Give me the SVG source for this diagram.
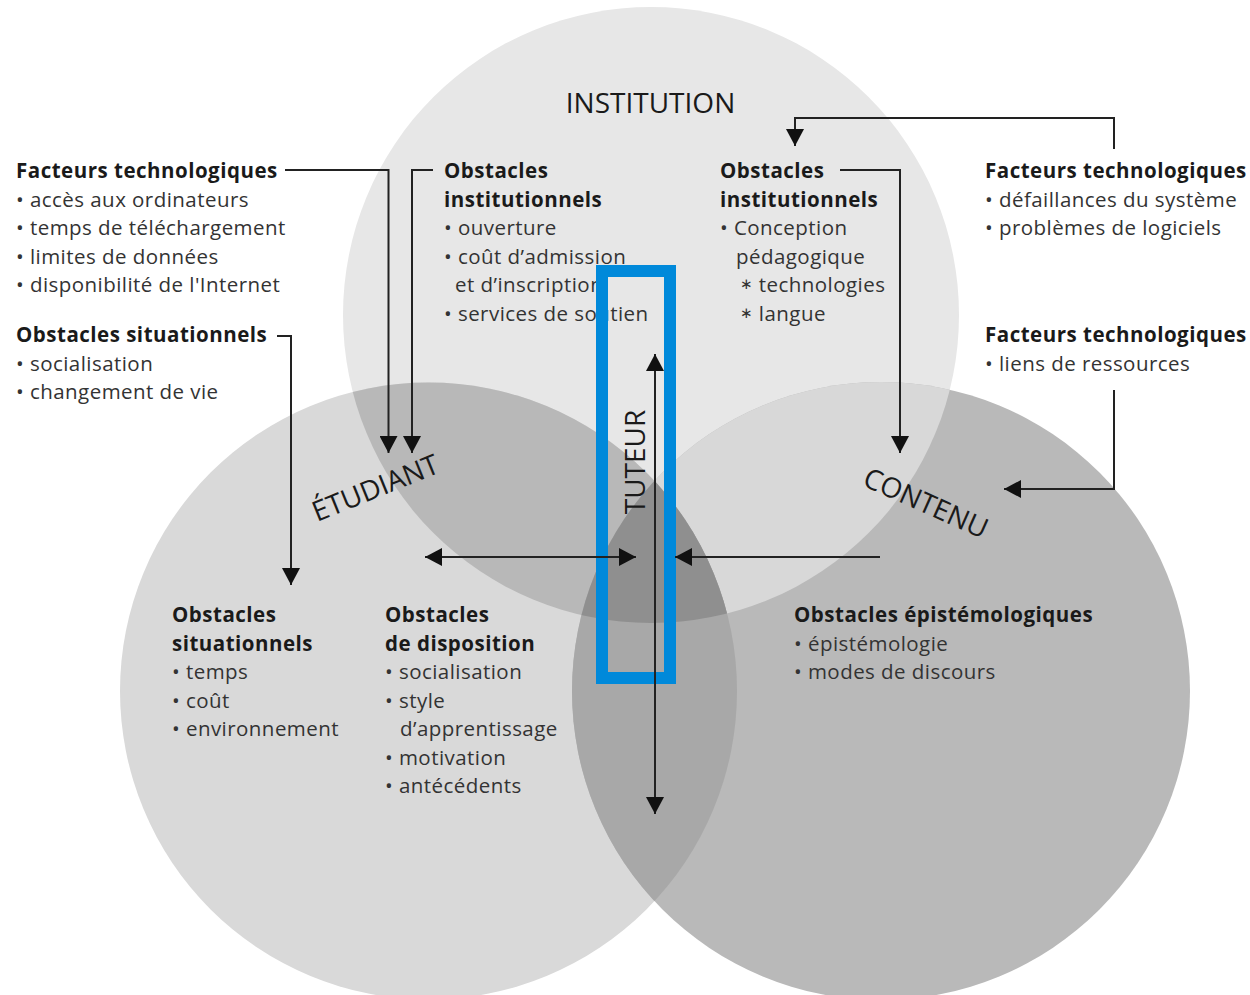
<svg xmlns="http://www.w3.org/2000/svg" width="1250" height="995" viewBox="0 0 1250 995">
<style>
text{font-family:"Open Sans","Noto Sans","DejaVu Sans",sans-serif;}
.h{font-weight:700;font-size:20.5px;letter-spacing:0.5px;fill:#1a1a1a;}
.b{font-size:20.5px;letter-spacing:0.45px;fill:#333;}
.big{font-size:28px;fill:#1a1a1a;}
.st{font-size:15px;}
.ln{fill:none;stroke:#222;stroke-width:2;}
</style>
<defs>
<clipPath id="cT"><circle cx="651" cy="315" r="308"/></clipPath>
<clipPath id="cL"><circle cx="428.5" cy="691" r="308.5"/></clipPath>
<clipPath id="cR"><circle cx="881" cy="691" r="309"/></clipPath>
<marker id="ah" viewBox="0 0 17 18" refX="17" refY="9" markerWidth="17" markerHeight="18" markerUnits="userSpaceOnUse" orient="auto-start-reverse"><path d="M0,0L17,9L0,18z" fill="#111"/></marker>
</defs>
<rect width="1250" height="995" fill="#fff"/>
<g id="venn">
<circle cx="651" cy="315" r="308" fill="#e7e7e7"/>
<circle cx="428.5" cy="691" r="308.5" fill="#d9d9d9"/>
<circle cx="881" cy="691" r="309" fill="#b9b9b9"/>
<circle cx="651" cy="315" r="308" fill="#d8d8d8" clip-path="url(#cR)"/>
<circle cx="651" cy="315" r="308" fill="#b8b8b8" clip-path="url(#cL)"/>
<circle cx="428.5" cy="691" r="308.5" fill="#a8a8a8" clip-path="url(#cR)"/>
<g clip-path="url(#cL)"><circle cx="651" cy="315" r="308" fill="#8f8f8f" clip-path="url(#cR)"/></g>
</g>
<g id="institution"><text class="big" x="650.5" y="113" text-anchor="middle">INSTITUTION</text></g>
<g id="etudiant"><text class="big" transform="translate(379,497) rotate(-22)" text-anchor="middle">ÉTUDIANT</text></g>
<g id="contenu"><text class="big" transform="translate(922,512) rotate(24)" text-anchor="middle">CONTENU</text></g>
<g id="tuteur"><text class="big" transform="translate(645,462) rotate(-90)" text-anchor="middle">TUTEUR</text></g>
<g id="facteurs-tech-gauche">
<text class="h" x="16" y="178">Facteurs technologiques</text>
<text class="b" x="16" y="206.5">• accès aux ordinateurs</text>
<text class="b" x="16" y="235">• temps de téléchargement</text>
<text class="b" x="16" y="263.5">• limites de données</text>
<text class="b" x="16" y="292">• disponibilité de l'Internet</text>
</g>
<g id="obstacles-situationnels-gauche">
<text class="h" x="16" y="342">Obstacles situationnels</text>
<text class="b" x="16" y="370.5">• socialisation</text>
<text class="b" x="16" y="399">• changement de vie</text>
</g>
<g id="obstacles-institutionnels-1">
<text class="h" x="444" y="178">Obstacles</text>
<text class="h" x="444" y="206.5">institutionnels</text>
<text class="b" x="444" y="235">• ouverture</text>
<text class="b" x="444" y="263.5">• coût d’admission</text>
<text class="b" x="455" y="292">et d’inscription</text>
<text class="b" x="444" y="320.5">• services de soutien</text>
</g>
<g id="obstacles-institutionnels-2">
<text class="h" x="720" y="178">Obstacles</text>
<text class="h" x="720" y="206.5">institutionnels</text>
<text class="b" x="720" y="235">• Conception</text>
<text class="b" x="736" y="263.5">pédagogique</text>
<text class="b" x="740" y="292"><tspan class="st" dy="-3">∗</tspan><tspan dy="3"> technologies</tspan></text>
<text class="b" x="740" y="320.5"><tspan class="st" dy="-3">∗</tspan><tspan dy="3"> langue</tspan></text>
</g>
<g id="facteurs-tech-droite-1">
<text class="h" x="985" y="178">Facteurs technologiques</text>
<text class="b" x="985" y="206.5">• défaillances du système</text>
<text class="b" x="985" y="235">• problèmes de logiciels</text>
</g>
<g id="facteurs-tech-droite-2">
<text class="h" x="985" y="342">Facteurs technologiques</text>
<text class="b" x="985" y="370.5">• liens de ressources</text>
</g>
<g id="obstacles-situationnels-bas">
<text class="h" x="172" y="622">Obstacles</text>
<text class="h" x="172" y="650.5">situationnels</text>
<text class="b" x="172" y="679">• temps</text>
<text class="b" x="172" y="707.5">• coût</text>
<text class="b" x="172" y="736">• environnement</text>
</g>
<g id="obstacles-disposition">
<text class="h" x="385" y="622">Obstacles</text>
<text class="h" x="385" y="650.5">de disposition</text>
<text class="b" x="385" y="679">• socialisation</text>
<text class="b" x="385" y="707.5">• style</text>
<text class="b" x="400" y="736">d’apprentissage</text>
<text class="b" x="385" y="764.5">• motivation</text>
<text class="b" x="385" y="793">• antécédents</text>
</g>
<g id="obstacles-epistemologiques">
<text class="h" x="794" y="622">Obstacles épistémologiques</text>
<text class="b" x="794" y="650.5">• épistémologie</text>
<text class="b" x="794" y="679">• modes de discours</text>
</g>
<g id="highlight"><rect x="602" y="271" width="68" height="407" fill="none" stroke="#0089da" stroke-width="12"/></g>
<g id="connectors">
<path class="ln" d="M285,170H388.5V453" marker-end="url(#ah)"/>
<path class="ln" d="M433,170H412V453" marker-end="url(#ah)"/>
<path class="ln" d="M277,336H291V585" marker-end="url(#ah)"/>
<path class="ln" d="M840,170H900V453" marker-end="url(#ah)"/>
<path class="ln" d="M1114,149V118H795V146" marker-end="url(#ah)"/>
<path class="ln" d="M1114,390V489H1004" marker-end="url(#ah)"/>
<path class="ln" d="M655,354V814" marker-start="url(#ah)" marker-end="url(#ah)"/>
<path class="ln" d="M425,557H636" marker-start="url(#ah)" marker-end="url(#ah)"/>
<path class="ln" d="M880,557H675" marker-end="url(#ah)"/>
</g>
</svg>
